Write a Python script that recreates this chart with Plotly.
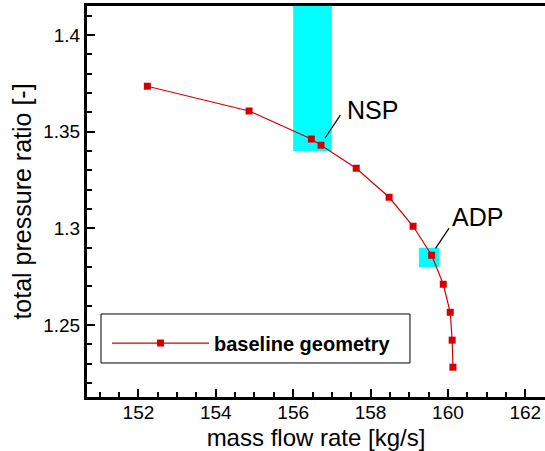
import plotly.graph_objects as go

# Compressor characteristic: baseline geometry speed line
mass_flow = [152.23, 154.86, 156.47, 156.72, 157.63, 158.48, 159.10,
             159.58, 159.88, 160.06, 160.11, 160.13]
pressure_ratio = [1.3735, 1.3607, 1.3462, 1.3430, 1.3311, 1.3161, 1.3011,
                  1.2861, 1.2711, 1.2566, 1.2422, 1.2282]
series_name = "baseline geometry"

# Operating-point regions (x0, x1, y0, y1)
nsp_box = [156.0, 157.0, 1.34, 1.415]
adp_box = [159.25, 159.77, 1.28, 1.29]

x_ticks = [152, 154, 156, 158, 160, 162]
x_tick_labels = ["152", "154", "156", "158", "160", "162"]
y_ticks = [1.25, 1.30, 1.35, 1.40]
y_tick_labels = ["1.25", "1.3", "1.35", "1.4"]

x_range = [150.67, 162.51]
y_range = [1.2128, 1.415]

FONT = "Liberation Sans, Arial, Helvetica, sans-serif"
RED = "#d40000"
CYAN = "#00ffff"

fig = go.Figure()

fig.add_trace(go.Scatter(
    x=mass_flow, y=pressure_ratio, name=series_name,
    mode="lines+markers",
    line=dict(color=RED, width=1.2),
    marker=dict(symbol="square", size=7, color=RED),
))

for box in (nsp_box, adp_box):
    fig.add_shape(type="rect", xref="x", yref="y",
                  x0=box[0], x1=box[1], y0=box[2], y1=box[3],
                  fillcolor=CYAN, line=dict(width=0), layer="below")

# Leader lines and labels for the two operating points
labels = [
    ("NSP", 158.05, 1.3612, (156.82, 1.3466, 157.22, 1.3586)),
    ("ADP", 160.77, 1.3061, (159.68, 1.2897, 160.03, 1.3001)),
]
for text, tx, ty, (lx0, ly0, lx1, ly1) in labels:
    fig.add_shape(type="line", xref="x", yref="y",
                  x0=lx0, y0=ly0, x1=lx1, y1=ly1,
                  line=dict(color="black", width=1.2))
    fig.add_annotation(x=tx, y=ty, xref="x", yref="y", text=text,
                       showarrow=False, font=dict(family=FONT, size=25, color="black"))

# Frame around the legend entry
fig.add_shape(type="rect", xref="paper", yref="paper",
              x0=0.0306, x1=0.7052, y0=0.087, y1=0.2123,
              line=dict(color="black", width=1), fillcolor="white", layer="below")

axis_common = dict(
    showline=True, linecolor="black", linewidth=3,
    showgrid=False, zeroline=False,
    ticks="inside", ticklen=8, tickwidth=2, tickcolor="black",
    tickfont=dict(family=FONT, size=19, color="black"),
    tickmode="array",
)

fig.update_xaxes(
    **axis_common,
    mirror=True,
    ticklabelstandoff=-4,
    range=x_range, tickvals=x_ticks, ticktext=x_tick_labels,
    minor=dict(ticks="inside", ticklen=5, tickwidth=1.5, tickcolor="black",
               tick0=150, dtick=0.5),
    title=dict(text="mass flow rate [kg/s]", font=dict(family=FONT, size=24, color="black"),
               standoff=12),
)
fig.update_yaxes(
    **axis_common,
    mirror=False,
    range=y_range, tickvals=y_ticks, ticktext=y_tick_labels,
    minor=dict(ticks="inside", ticklen=5, tickwidth=1.5, tickcolor="black",
               tick0=1.2, dtick=0.01),
    title=dict(text="total pressure ratio [-]", font=dict(family=FONT, size=25, color="black"),
               standoff=5),
)

fig.update_layout(
    width=545, height=451,
    margin=dict(l=87, r=0, t=6, b=54),
    paper_bgcolor="white", plot_bgcolor="white",
    showlegend=True,
    legend=dict(
        x=0.0437, y=0.138, xanchor="left", yanchor="middle",
        borderwidth=0, bgcolor="rgba(0,0,0,0)",
        itemwidth=97,
        font=dict(family=FONT, size=20, color="black", weight="bold"),
    ),
)

fig.write_html("out.html")
